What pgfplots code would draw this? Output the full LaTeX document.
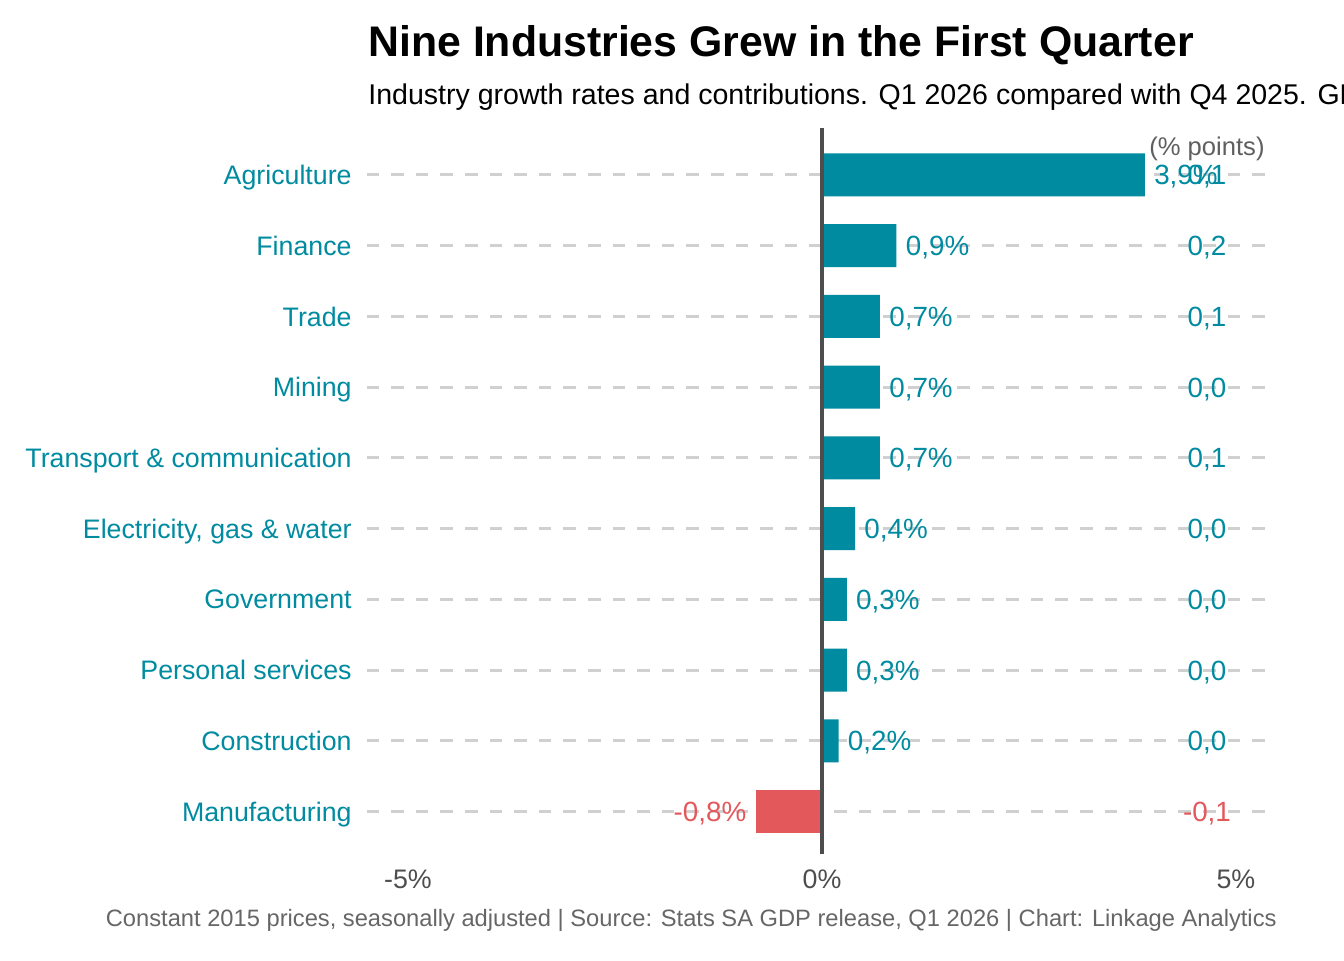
\documentclass[border=0pt]{standalone}
\usepackage{pgfplots}
\pgfplotsset{compat=1.18}
\usepackage{pgfplotstable}
\usepackage{fontspec}
\setmainfont{Liberation Sans}
\definecolor{teal}{RGB}{0,139,160}
\definecolor{negred}{RGB}{227,88,91}
\definecolor{axgray}{RGB}{77,77,77}
\definecolor{gridgray}{RGB}{208,208,208}
\definecolor{capgray}{RGB}{102,102,102}

\pgfplotstableread{
y x lab
10 3.9 3,9
9 0.9 0,9
8 0.7 0,7
7 0.7 0,7
6 0.7 0,7
5 0.4 0,4
4 0.3 0,3
3 0.3 0,3
2 0.2 0,2
}\growthpos
\pgfplotstableread{
y x lab
1 -0.8 -0,8
}\growthneg
\pgfplotstableread{
y x lab
10 4.65 0,1
9 4.65 0,2
8 4.65 0,1
7 4.65 0,0
6 4.65 0,1
5 4.65 0,0
4 4.65 0,0
3 4.65 0,0
2 4.65 0,0
}\contribpos
\pgfplotstableread{
y x lab
1 4.65 -0,1
}\contribneg
\pgfplotstableread{
x y
0 0.4
0 10.66
}\zeroline

\begin{document}
\begin{tikzpicture}
\path[use as bounding box] (0,0) rectangle (672pt,480pt);
\clip (0,0) rectangle (672pt,480pt);
\begin{axis}[
  at={(183.3pt,53pt)}, anchor=south west,
  width=453.3pt, height=362.85pt, scale only axis,
  xmin=-5.5, xmax=5.45, ymin=0.4, ymax=10.66,
  axis line style={draw=none},
  xtick={-5,0,5}, xticklabels={-5\%,0\%,5\%},
  ytick={1,...,10},
  yticklabels={Manufacturing,Construction,Personal services,Government,{Electricity, gas \& water},Transport \& communication,Mining,Trade,Finance,Agriculture},
  major tick length=0pt,
  tick style={draw=none},
  xticklabel style={font=\fontsize{13.4}{15}\selectfont, text=axgray, anchor=base, inner sep=0pt, yshift=-17pt},
  yticklabel style={font=\fontsize{13.38}{15}\selectfont, text=teal, anchor=base east, inner sep=0pt, xshift=-7.3pt, yshift=-4.8pt},
  ymajorgrids,
  major grid style={gridgray, line width=1.5pt, dash pattern=on 6.3pt off 6pt},
  clip=false,
]
\addplot[xbar, bar width=21.5pt, bar shift=0pt, fill=teal, draw=none] table[x=x,y=y] {\growthpos};
\addplot[xbar, bar width=21.5pt, bar shift=0pt, fill=negred, draw=none] table[x=x,y=y] {\growthneg};
\addplot[draw=none, mark=none, point meta=explicit symbolic,
  nodes near coords={\pgfplotspointmeta\%},
  every node near coord/.append style={anchor=base west, inner sep=0pt, xshift=4.5pt, yshift=-5pt, text=teal, font=\fontsize{13.9}{15}\selectfont}]
  table[x=x,y=y,meta=lab] {\growthpos};
\addplot[draw=none, mark=none, point meta=explicit symbolic,
  nodes near coords={\pgfplotspointmeta\%},
  every node near coord/.append style={anchor=base east, inner sep=0pt, xshift=-4.5pt, yshift=-5pt, text=negred, font=\fontsize{13.9}{15}\selectfont}]
  table[x=x,y=y,meta=lab] {\growthneg};
\addplot[draw=none, mark=none, point meta=explicit symbolic,
  nodes near coords={\pgfplotspointmeta},
  every node near coord/.append style={anchor=base, inner sep=0pt, yshift=-5pt, text=teal, font=\fontsize{13.9}{15}\selectfont}]
  table[x=x,y=y,meta=lab] {\contribpos};
\addplot[draw=none, mark=none, point meta=explicit symbolic,
  nodes near coords={\pgfplotspointmeta},
  every node near coord/.append style={anchor=base, inner sep=0pt, yshift=-5pt, text=negred, font=\fontsize{13.9}{15}\selectfont}]
  table[x=x,y=y,meta=lab] {\contribneg};
\addplot[axgray, line width=2pt] table[x=x,y=y] {\zeroline};
\node[anchor=center, inner sep=0pt, text=axgray!90, font=\fontsize{12.8}{15}\selectfont] at (axis cs:4.65,10.37) {(\% points)};
\end{axis}
\node[anchor=base west, inner sep=0pt, font=\bfseries\fontsize{21.4}{25}\selectfont] at (184pt,451.5pt) {Nine Industries Grew in the First Quarter};
\node[anchor=base west, inner sep=0pt, font=\fontsize{14.27}{17}\selectfont] at (184pt,427.5pt) {Industry growth rates and contributions. Q1 2026 compared with Q4 2025. GDP grew 0,8\% overall};
\node[anchor=base east, inner sep=0pt, text=capgray, font=\fontsize{11.85}{14}\selectfont] at (638.5pt,17pt) {Constant 2015 prices, seasonally adjusted | Source: Stats SA GDP release, Q1 2026 | Chart: Linkage Analytics};
\end{tikzpicture}
\end{document}
